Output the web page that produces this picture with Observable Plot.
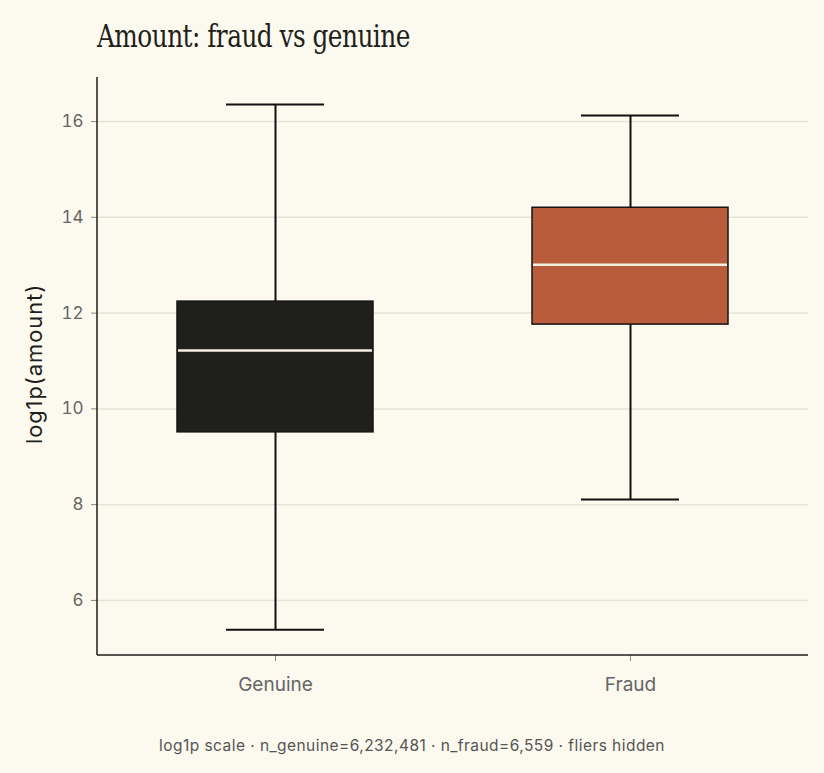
<!DOCTYPE html>
<html>
<head>
<meta charset="utf-8">
<script src="https://cdn.jsdelivr.net/npm/d3@7"></script>
<script src="https://cdn.jsdelivr.net/npm/@observablehq/plot@0.6"></script>
<style>
  html, body { margin: 0; padding: 0; background: #fcf9ee; }
  #wrap { position: relative; width: 824px; height: 773px; background: #fcf9ee; overflow: hidden; }
  #title { position: absolute; left: 97px; top: 17px; font-family: "DejaVu Serif Condensed", "Liberation Serif", serif; font-size: 32px; color: #1f1f1c; letter-spacing: -0.6px; transform: scaleX(0.86); transform-origin: left top; white-space: nowrap; }
  #chart { position: absolute; left: 0; top: 60px; }
  #caption { position: absolute; left: 0; width: 824px; top: 736px; text-align: center; font-family: Inter, "Noto Sans", sans-serif; font-size: 15.5px; letter-spacing: 0.45px; color: #555; }
</style>
</head>
<body>
<div id="wrap">
  <div id="title">Amount: fraud vs genuine</div>
  <div id="chart"></div>
  <div id="caption">log1p scale · n_genuine=6,232,481 · n_fraud=6,559 · fliers hidden</div>
</div>
<script>
const categories = ["Genuine", "Fraud"];
const whiskerLow = [5.39, 8.11];
const q1 = [9.51, 11.76];
const median = [11.22, 13.01];
const q3 = [12.24, 14.20];
const whiskerHigh = [16.355, 16.125];
const fills = ["#1f1f1d", "#b95c3b"];
const yTicks = [6, 8, 10, 12, 14, 16];

const data = categories.map((c, i) => ({
  cat: c, lo: whiskerLow[i], q1: q1[i], med: median[i], q3: q3[i], hi: whiskerHigh[i], fill: fills[i]
}));

const plot = Plot.plot({
  width: 824,
  height: 655,
  marginLeft: 97,
  marginRight: 16,
  marginTop: 17,
  marginBottom: 60,
  style: { background: "transparent", fontFamily: "Inter, 'Noto Sans', sans-serif" },
  x: { type: "band", domain: categories, paddingInner: 0.448, paddingOuter: 0.225, label: null },
  y: { domain: [4.85, 16.92], ticks: yTicks, label: null },
  marks: [
    Plot.gridY(yTicks, { stroke: "#e6e2d6", strokeOpacity: 1, strokeWidth: 1.5 }),
    Plot.ruleX(data, { x: "cat", y1: "lo", y2: "hi", stroke: "#111", strokeWidth: 2 }),
    Plot.tickY(data, { x: "cat", y: "lo", stroke: "#111", strokeWidth: 2, insetLeft: 49, insetRight: 49 }),
    Plot.tickY(data, { x: "cat", y: "hi", stroke: "#111", strokeWidth: 2, insetLeft: 49, insetRight: 49 }),
    Plot.barY(data, { x: "cat", y1: "q1", y2: "q3", fill: d => d.fill, stroke: "#141412", strokeWidth: 1.5 }),
    Plot.tickY(data, { x: "cat", y: "med", stroke: "#f5efe0", strokeWidth: 2.5, insetLeft: 1, insetRight: 1 }),
    Plot.axisY(yTicks, { tickSize: 6, tickPadding: 8, fontSize: 17, color: "#666", stroke: "#888", label: null }),
    Plot.axisX({ tickSize: 6, tickPadding: 16, fontSize: 19, color: "#666", stroke: "#888", label: null, style: "letter-spacing:1px" })
  ]
});

const ys = plot.scale("y");
const svg = d3.select(plot);
document.getElementById("chart").appendChild(plot);

const x0 = 97, x1 = 824 - 16;
const yTop = ys.apply(16.92), yBot = ys.apply(4.85);
svg.append("line").attr("x1", x0).attr("x2", x0).attr("y1", yTop).attr("y2", yBot).attr("stroke", "#1f1f1c").attr("stroke-width", 1.5);
svg.append("line").attr("x1", x0).attr("x2", x1).attr("y1", yBot).attr("y2", yBot).attr("stroke", "#1f1f1c").attr("stroke-width", 1.5);
svg.append("text")
  .attr("transform", `translate(42, ${(yTop + yBot) / 2 - 2}) rotate(-90)`)
  .attr("text-anchor", "middle")
  .attr("font-family", "Inter, 'Noto Sans', sans-serif")
  .attr("font-size", 22)
  .attr("letter-spacing", "0.9px")
  .attr("fill", "#1f1f1c")
  .text("log1p(amount)");
</script>
</body>
</html>
